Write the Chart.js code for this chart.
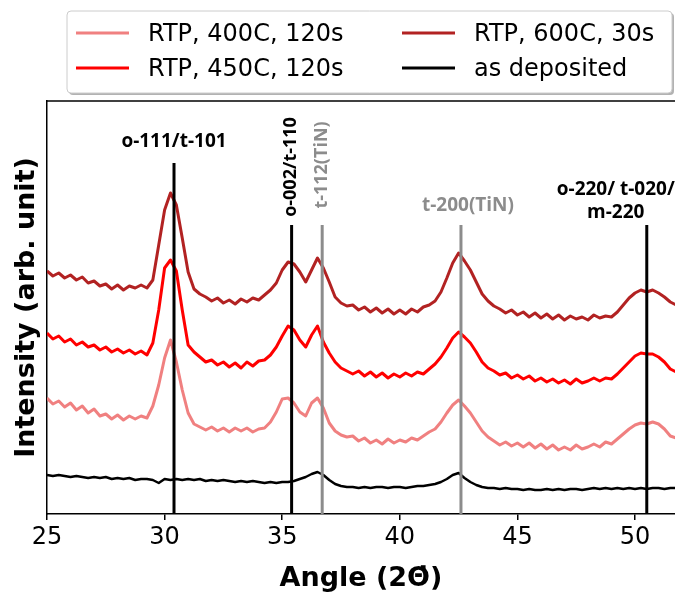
<!DOCTYPE html>
<html>
<head>
<meta charset="utf-8">
<script src="https://cdn.jsdelivr.net/npm/chart.js@4.4.1/dist/chart.umd.min.js"></script>
<style>
  html, body { margin: 0; padding: 0; background: #fff; }
  #wrap { width: 675px; height: 595px; }
</style>
</head>
<body>
<div id="wrap"><canvas id="xrdChart"></canvas></div>
<script>
// 2-theta sampling (deg)
const angles = [
    25.00, 25.25, 25.50, 25.75, 26.00, 26.25, 26.50, 26.75,
    27.00, 27.25, 27.50, 27.75, 28.00, 28.25, 28.50, 28.75,
    29.00, 29.25, 29.50, 29.75, 30.00, 30.25, 30.50, 30.75,
    31.00, 31.25, 31.50, 31.75, 32.00, 32.25, 32.50, 32.75,
    33.00, 33.25, 33.50, 33.75, 34.00, 34.25, 34.50, 34.75,
    35.00, 35.25, 35.50, 35.75, 36.00, 36.25, 36.50, 36.75,
    37.00, 37.25, 37.50, 37.75, 38.00, 38.25, 38.50, 38.75,
    39.00, 39.25, 39.50, 39.75, 40.00, 40.25, 40.50, 40.75,
    41.00, 41.25, 41.50, 41.75, 42.00, 42.25, 42.50, 42.75,
    43.00, 43.25, 43.50, 43.75, 44.00, 44.25, 44.50, 44.75,
    45.00, 45.25, 45.50, 45.75, 46.00, 46.25, 46.50, 46.75,
    47.00, 47.25, 47.50, 47.75, 48.00, 48.25, 48.50, 48.75,
    49.00, 49.25, 49.50, 49.75, 50.00, 50.25, 50.50, 50.75,
    51.00, 51.25, 51.50, 51.75
];

// intensities, offset per sample so the traces stack
const rtp400 = [
    116, 110, 113, 107, 111, 104, 108, 101,
    105,  98, 100,  95,  99,  94,  98,  95,
     98,  96, 108, 129, 156, 174, 152, 124,
    101,  90,  87,  84,  87,  83,  86,  82,
     86,  83,  86,  82,  85,  86,  92, 102,
    115, 116, 111, 102,  98, 111, 116, 106,
     91,  83,  79,  77,  78,  73,  76,  71,
     74,  70,  75,  71,  74,  72,  76,  74,
     78,  82,  85,  92, 101, 109, 114, 108,
    101,  92,  83,  77,  73,  69,  72,  68,
     71,  67,  71,  66,  70,  65,  69,  64,
     67,  64,  69,  65,  67,  70,  67,  72,
     70,  75,  80,  85,  89,  91,  90,  92,
     90,  85,  78,  76
];

const rtp450 = [
    181, 175, 178, 172, 175, 169, 172, 167,
    169, 164, 167, 162, 165, 161, 164, 160,
    163, 159, 171, 204, 246, 254, 243, 204,
    169, 162, 157, 152, 154, 149, 152, 147,
    151, 146, 152, 148, 153, 154, 159, 167,
    178, 188, 184, 174, 167, 179, 188, 172,
    161, 152, 146, 143, 140, 143, 138, 142,
    137, 141, 136, 140, 137, 141, 138, 142,
    140, 145, 150, 157, 166, 176, 182, 177,
    171, 162, 152, 146, 143, 139, 141, 136,
    139, 135, 138, 133, 136, 132, 135, 131,
    134, 130, 135, 131, 133, 136, 133, 136,
    135, 140, 146, 152, 158, 161, 160, 160,
    157, 152, 145, 142
];

const rtp600 = [
    243, 238, 241, 236, 239, 234, 237, 231,
    233, 228, 230, 225, 229, 224, 228, 226,
    229, 226, 234, 269, 304, 321, 309, 276,
    242, 225, 220, 217, 213, 216, 211, 214,
    210, 215, 212, 216, 214, 219, 224, 231,
    244, 252, 250, 242, 232, 244, 256, 246,
    232, 217, 211, 208, 209, 204, 207, 202,
    206, 201, 205, 200, 204, 200, 205, 202,
    207, 209, 213, 222, 236, 251, 261, 253,
    244, 232, 220, 213, 208, 205, 201, 204,
    199, 202, 197, 201, 196, 200, 195, 199,
    194, 198, 195, 197, 194, 199, 196, 198,
    197, 202, 209, 216, 221, 224, 222, 224,
    221, 217, 212, 209
];

const asDeposited = [
    39, 38, 39, 38, 37, 38, 37, 36,
    37, 36, 37, 35, 36, 35, 36, 34,
    35, 35, 34, 31, 35, 34, 35, 34,
    35, 34, 35, 33, 34, 33, 34, 33,
    32, 33, 32, 33, 32, 31, 32, 31,
    32, 32, 33, 35, 37, 40, 42, 39,
    34, 30, 28, 27, 27, 26, 27, 26,
    27, 27, 26, 27, 27, 26, 27, 28,
    28, 29, 30, 32, 35, 39, 41, 36,
    32, 29, 27, 26, 26, 25, 26, 25,
    25, 24, 25, 24, 24, 25, 24, 25,
    24, 25, 25, 24, 25, 26, 25, 26,
    25, 26, 25, 26, 25, 26, 25, 26,
    26, 25, 26, 26
];

const seriesLabels = ['RTP, 400C, 120s', 'RTP, 450C, 120s', 'RTP, 600C, 30s', 'as deposited'];
const xTicks = [25, 30, 35, 40, 45, 50];

// reference reflections (deg) and their names
const refPeaks = [30.4, 35.4, 36.7, 42.6, 50.5];
const refNames = ['o-111/t-101', 'o-002/t-110', 't-112(TiN)', 't-200(TiN)', ['o-220/ t-020/', 'm-220']];

const LIGHT = '#f08080';
const RED   = '#ff0000';
const DARK  = '#b22222';
const GRAY  = '#8c8c8c';

Chart.defaults.font.family = "'DejaVu Sans', sans-serif";
Chart.defaults.color = '#000';

const toPoints = ys => angles.map((a, i) => ({ x: a, y: ys[i] }));

// where each reflection marker and its label sit
const refStyle = [
    { color: '#000', top: 351, dx: 0,   y: 142, rotate: false },
    { color: '#000', top: 289, dx: -1,  y: 167, rotate: true },
    { color: GRAY,   top: 289, dx: 0,   y: 165, rotate: true },
    { color: GRAY,   top: 289, dx: 7,   y: 206, rotate: false },
    { color: '#000', top: 289, dx: -31, y: 190, rotate: false }
];

const refLines = {
    id: 'refLines',
    afterDatasetsDraw(chart) {
        const { ctx, scales: { x, y }, chartArea } = chart;
        ctx.save();
        refPeaks.forEach((p, i) => {
            const st = refStyle[i];
            const px = x.getPixelForValue(p);
            ctx.strokeStyle = st.color;
            ctx.lineWidth = 3;
            ctx.beginPath();
            ctx.moveTo(px, y.getPixelForValue(st.top));
            ctx.lineTo(px, chartArea.bottom);
            ctx.stroke();

            ctx.fillStyle = st.color;
            ctx.textAlign = 'center';
            ctx.textBaseline = 'middle';
            const name = refNames[i];
            if (st.rotate) {
                ctx.font = "bold 18px 'Open Sans'";
                ctx.save();
                ctx.translate(px + st.dx, st.y);
                ctx.rotate(-Math.PI / 2);
                ctx.fillText(name, 0, 0);
                ctx.restore();
            } else {
                ctx.font = "bold 19px 'Open Sans'";
                const lines = Array.isArray(name) ? name : [name];
                lines.forEach((t, k) => ctx.fillText(t, px + st.dx, st.y + k * 23));
            }
        });
        // top spine
        ctx.strokeStyle = '#000';
        ctx.lineWidth = 1.5;
        ctx.beginPath();
        ctx.moveTo(chartArea.left, chartArea.top);
        ctx.lineTo(chartArea.right, chartArea.top);
        ctx.stroke();
        ctx.restore();
    }
};

// two-column legend box above the plot
const boxLegend = {
    id: 'boxLegend',
    afterDraw(chart) {
        const { ctx } = chart;
        const bx = 67, by = 11, bw = 605, bh = 82;
        ctx.save();
        ctx.fillStyle = 'rgba(0,0,0,0.3)';
        ctx.beginPath();
        ctx.roundRect(bx + 2, by + 2, bw, bh, 4);
        ctx.fill();
        ctx.fillStyle = '#fff';
        ctx.strokeStyle = '#cccccc';
        ctx.lineWidth = 1;
        ctx.beginPath();
        ctx.roundRect(bx, by, bw, bh, 4);
        ctx.fill();
        ctx.stroke();

        const cols = [76, 402];
        const rows = [33, 68];
        ctx.font = "24px 'DejaVu Sans'";
        ctx.textBaseline = 'alphabetic';
        ctx.textAlign = 'left';
        chart.data.datasets.forEach((ds, i) => {
            const cx = cols[Math.floor(i / 2)];
            const cy = rows[i % 2];
            ctx.strokeStyle = ds.borderColor;
            ctx.lineWidth = 3;
            ctx.beginPath();
            ctx.moveTo(cx, cy);
            ctx.lineTo(cx + 53, cy);
            ctx.stroke();
            ctx.fillStyle = '#000';
            ctx.fillText(ds.label, cx + 72, cy + 8);
        });
        ctx.restore();
    }
};

const colors = [LIGHT, RED, DARK, '#000'];
const series = [rtp400, rtp450, rtp600, asDeposited];

new Chart(document.getElementById('xrdChart'), {
    type: 'line',
    data: {
        datasets: series.map((ys, i) => ({
            label: seriesLabels[i],
            data: toPoints(ys),
            borderColor: colors[i],
            borderWidth: i === 3 ? 2.5 : 3,
            pointRadius: 0,
            tension: 0,
            fill: false,
            borderJoinStyle: 'round'
        }))
    },
    options: {
        responsive: true,
        maintainAspectRatio: false,
        animation: false,
        devicePixelRatio: 1,
        layout: { padding: { top: 101, right: 0, bottom: 0, left: 0 } },
        plugins: {
            legend: { display: false },
            tooltip: { enabled: false }
        },
        scales: {
            x: {
                type: 'linear',
                min: 25,
                max: 51.7,
                afterBuildTicks: s => { s.ticks = xTicks.map(v => ({ value: v })); },
                afterFit: s => { s.height = 81; },
                ticks: { font: { size: 24 }, color: '#000', padding: 3, maxRotation: 0 },
                grid: { drawOnChartArea: false, drawTicks: true, tickLength: 6, color: '#000', lineWidth: 1.5 },
                border: { color: '#000', width: 1.5 },
                title: {
                    display: true,
                    text: 'Angle (2\u0398\u0307)',
                    font: { size: 27, weight: 'bold' },
                    color: '#000',
                    padding: { top: 0, bottom: 0 }
                }
            },
            y: {
                min: 0,
                max: 413,
                afterFit: s => { s.width = 47; },
                ticks: { display: false },
                grid: { display: false },
                border: { color: '#000', width: 1.5 },
                title: {
                    display: true,
                    text: 'Intensity (arb. unit)',
                    font: { size: 27, weight: 'bold' },
                    color: '#000',
                    padding: { top: 11, bottom: 0 }
                }
            }
        }
    },
    plugins: [refLines, boxLegend]
});
</script>
</body>
</html>
